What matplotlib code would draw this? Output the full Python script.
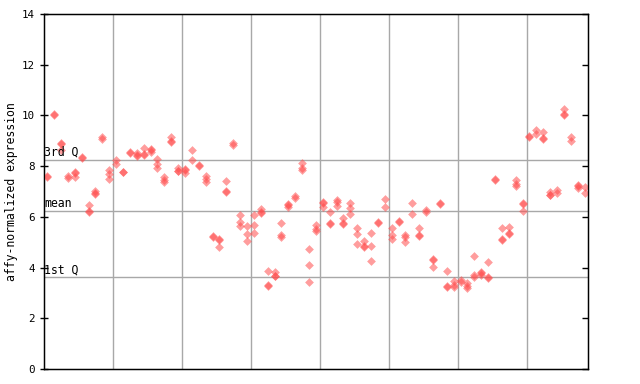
import numpy as np
import matplotlib
matplotlib.use('Agg')
import matplotlib.pyplot as plt

nan = np.nan

# replicate values per sample (nan = no replicate)
rep_a = [7.62, 10.07, 8.90, 7.60, 7.75, 8.35, 6.46, 7.00, 9.15, 7.85,
         8.22, 7.78, 8.55, 8.50, 8.70, 8.66, 8.28, 7.56, 9.13, 7.92,
         7.90, 8.62, 8.05, 7.60, 5.24, 5.14, 7.40, 8.92, 6.06, 5.62,
         6.07, 6.32, 3.86, 3.82, 5.75, 6.50, 6.80, 8.11, 4.72, 5.68,
         6.58, 6.19, 6.67, 5.95, 6.54, 5.54, 5.06, 5.36, 5.81, 6.69,
         5.54, 5.85, 5.28, 6.53, 5.54, 6.27, 4.33, 6.56, 3.86, 3.45,
         3.50, 3.41, 4.44, 3.84, 4.20, 7.48, 5.54, 5.58, 7.44, 6.56,
         9.20, 9.41, 9.33, 6.96, 7.05, 10.24, 9.13, 7.27, 7.16]
rep_b = [7.55, 10.00, 8.85, 7.53, 7.72, 8.32, 6.22, 6.95, 9.07, 7.68,
         8.08, 7.75, 8.50, 8.42, 8.48, 8.62, 8.10, 7.44, 8.97, 7.82,
         7.86, 8.22, 8.00, 7.49, 5.20, 5.10, 7.02, 8.84, 5.78, 5.31,
         5.66, 6.20, 3.33, 3.68, 5.27, 6.47, 6.76, 7.91, 4.10, 5.50,
         6.54, 5.77, 6.57, 5.75, 6.33, 5.32, 4.84, 4.85, 5.74, 6.37,
         5.28, 5.81, 5.20, 6.11, 5.27, 6.20, 4.28, 6.50, 3.26, 3.30,
         3.42, 3.28, 3.70, 3.80, 3.64, 7.44, 5.14, 5.35, 7.30, 6.50,
         9.14, 9.28, 9.10, 6.87, 6.92, 10.07, 9.00, 7.23, 6.92]
rep_c = [nan, nan, 8.62, nan, 7.57, nan, 6.18, 6.90, nan, 7.50,
         nan, nan, nan, 8.38, 8.45, 8.55, 7.92, 7.37, 8.94, 7.80,
         7.74, nan, nan, 7.37, nan, 4.79, 6.96, nan, 5.64, 5.04,
         5.36, 6.15, 3.29, 3.65, 5.20, 6.37, nan, 7.83, 3.42, 5.44,
         6.37, 5.70, 6.41, 5.71, 6.11, 4.93, 4.80, 4.26, nan, nan,
         5.11, nan, 5.02, nan, 5.23, nan, 4.01, nan, 3.22, 3.22,
         nan, 3.18, 3.64, 3.70, 3.59, nan, 5.10, 5.31, 7.23, 6.21,
         nan, nan, 9.06, 6.84, nan, 10.03, nan, 7.12, nan]

q1, mean_val, q3 = 3.61, 6.21, 8.24
yticks = [0, 2, 4, 6, 8, 10, 12, 14]

plt.rcParams['font.family'] = 'DejaVu Sans Mono'

fig = plt.figure(figsize=(6.4, 3.84), dpi=100)
ax = fig.add_axes([0.069, 0.039, 0.849, 0.925])

x = np.arange(len(rep_a))
for reps in (rep_a, rep_b, rep_c):
    ax.scatter(x, reps, marker='D', s=20, color='#ff4d4d', alpha=0.55,
               linewidths=0, zorder=3)

# vertical separators between sample groups
for gx in np.arange(9.6, 78, 10):
    ax.axvline(gx, color='#a8a8a8', lw=1, zorder=1)

for val, lab in ((q3, '3rd Q'), (mean_val, 'mean'), (q1, '1st Q')):
    ax.axhline(val, color='#a8a8a8', lw=1, zorder=1)
    ax.text(-0.4, val + 0.04, lab, fontsize=8.3, va='bottom', ha='left')

ax.set_xlim(-0.44, 78.43)
ax.set_ylim(0, 14)
ax.set_xticks([])
ax.set_yticks(yticks)
ax.tick_params(axis='y', direction='inout', length=6, labelsize=7.8, width=1)
ax.set_ylabel('affy-normalized expression', fontsize=8.3, labelpad=3)
for sp in ax.spines.values():
    sp.set_linewidth(1)

# right side: inward ticks only
ax2 = ax.twinx()
ax2.set_ylim(0, 14)
ax2.set_yticks(yticks)
ax2.tick_params(axis='y', direction='in', length=4, width=1, labelright=False)

fig.savefig('out.png', dpi=100)
